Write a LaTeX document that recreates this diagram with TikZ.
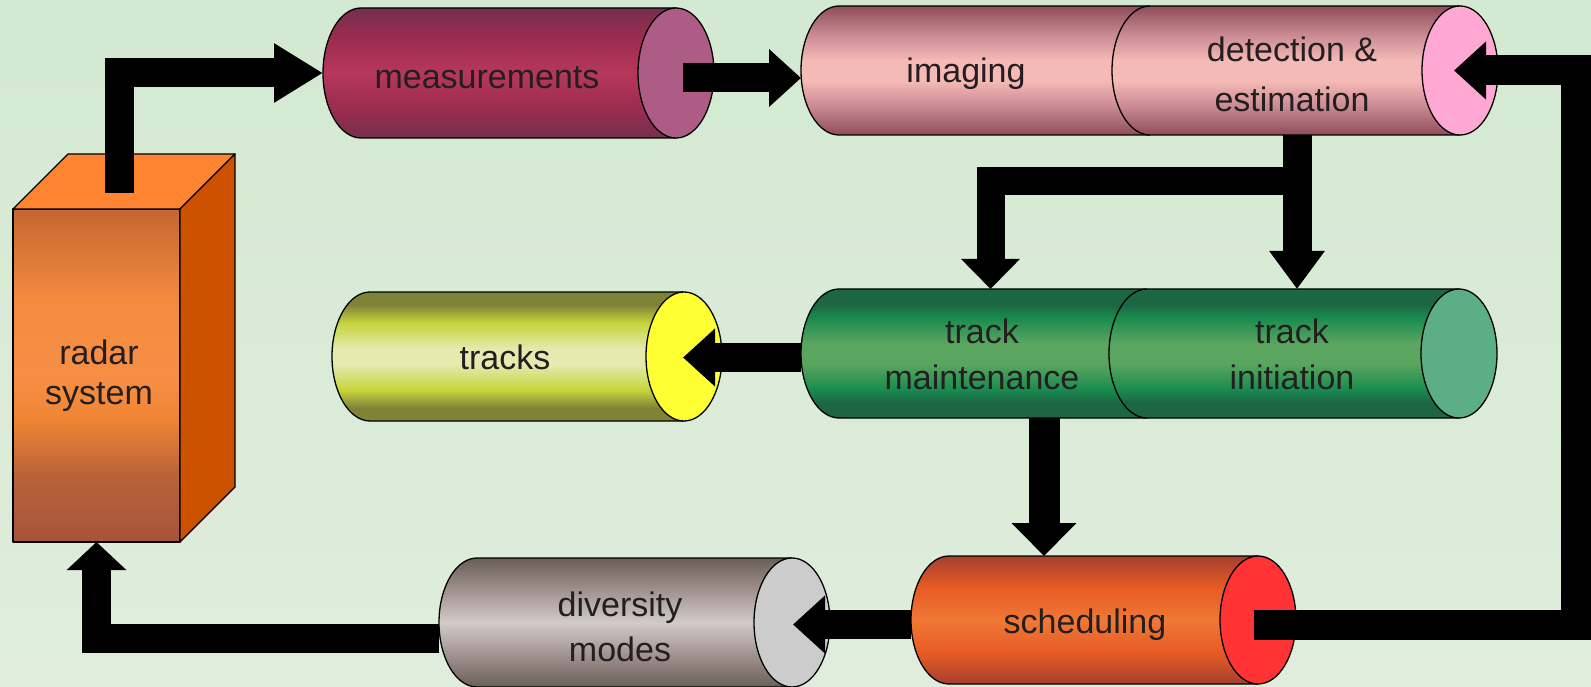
\documentclass[tikz,border=0pt]{standalone}
\usepackage{fontspec}
\setmainfont{Liberation Sans}
\usetikzlibrary{arrows.meta,calc}

\definecolor{bgT}{HTML}{D3E9D1}
\definecolor{bgB}{HTML}{E0EDDC}
\definecolor{txt}{HTML}{231F20}
% measurements
\definecolor{measE}{HTML}{74304C}
\definecolor{measQ}{HTML}{9A2C50}
\definecolor{measM}{HTML}{B6385A}
\definecolor{measC}{HTML}{AD5C85}
% imaging / detection
\definecolor{imgE}{HTML}{8E4C58}
\definecolor{imgQ}{HTML}{C98A93}
\definecolor{imgM}{HTML}{F5B9B6}
\definecolor{imgC}{HTML}{FFA8D4}
% track
\definecolor{trkE}{HTML}{1C6644}
\definecolor{trkQ}{HTML}{198B4E}
\definecolor{trkM}{HTML}{5AA55F}
\definecolor{trkC}{HTML}{5BAE86}
% tracks
\definecolor{tksE}{HTML}{7F8338}
\definecolor{tksQ}{HTML}{C6D43A}
\definecolor{tksM}{HTML}{E3EBAF}
\definecolor{tksC}{HTML}{FFFF33}
% scheduling
\definecolor{schE}{HTML}{A53F2F}
\definecolor{schQ}{HTML}{E65A25}
\definecolor{schM}{HTML}{F07835}
\definecolor{schC}{HTML}{FF3333}
% diversity
\definecolor{divE}{HTML}{6A5E59}
\definecolor{divQ}{HTML}{9E918D}
\definecolor{divM}{HTML}{D2CBC8}
\definecolor{divC}{HTML}{CCCCCC}
% radar
\definecolor{radA}{HTML}{C56630}
\definecolor{radB}{HTML}{F38B3F}
\definecolor{radC}{HTML}{F68E46}
\definecolor{radD}{HTML}{EF8534}
\definecolor{radE}{HTML}{B9623A}
\definecolor{radF}{HTML}{A6533A}
\definecolor{radTop}{HTML}{FF8533}
\definecolor{radSide}{HTML}{CC5200}

\pgfdeclareverticalshading{measSh}{100bp}{color(0bp)=(measE); color(25bp)=(measE); color(36bp)=(measQ); color(50bp)=(measM); color(64bp)=(measQ); color(75bp)=(measE); color(100bp)=(measE)}
\pgfdeclareverticalshading{imgSh}{100bp}{color(0bp)=(imgE); color(25bp)=(imgE); color(36bp)=(imgQ); color(46bp)=(imgM); color(54bp)=(imgM); color(64bp)=(imgQ); color(75bp)=(imgE); color(100bp)=(imgE)}
\pgfdeclareverticalshading{trkSh}{100bp}{color(0bp)=(trkE); color(25bp)=(trkE); color(31bp)=(trkE); color(36bp)=(trkQ); color(46bp)=(trkM); color(54bp)=(trkM); color(64bp)=(trkQ); color(69bp)=(trkE); color(75bp)=(trkE); color(100bp)=(trkE)}
\pgfdeclareverticalshading{tksSh}{100bp}{color(0bp)=(tksE); color(25bp)=(tksE); color(30bp)=(tksE); color(37bp)=(tksQ); color(47bp)=(tksM); color(53bp)=(tksM); color(63bp)=(tksQ); color(70bp)=(tksE); color(75bp)=(tksE); color(100bp)=(tksE)}
\pgfdeclareverticalshading{schSh}{100bp}{color(0bp)=(schE); color(25bp)=(schE); color(37bp)=(schQ); color(50bp)=(schM); color(63bp)=(schQ); color(75bp)=(schE); color(100bp)=(schE)}
\pgfdeclareverticalshading{divSh}{100bp}{color(0bp)=(divE); color(25bp)=(divE); color(37bp)=(divQ); color(50bp)=(divM); color(63bp)=(divQ); color(75bp)=(divE); color(100bp)=(divE)}
\pgfdeclareverticalshading{radSh}{100bp}{color(0bp)=(radF); color(25bp)=(radF); color(35bp)=(radE); color(43.5bp)=(radD); color(50bp)=(radC); color(61.5bp)=(radB); color(75bp)=(radA); color(100bp)=(radA)}

% cylinder body: xL, xR (centres of the end ellipses), yT, yB (pixel rows), shading
\newcommand\cylbody[5]{%
  \pgfmathsetmacro\cylry{(#4-#3)/2}%
  \shade[shading=#5] (#2,-#3) -- (#1,-#3) arc[start angle=90,end angle=270,x radius=38,y radius=\cylry] -- (#2,-#4) -- cycle;
  \draw[cyl] (#2,-#3) -- (#1,-#3) arc[start angle=90,end angle=270,x radius=38,y radius=\cylry] -- (#2,-#4);
}
% cylinder end cap: xR, yT, yB, colour
\newcommand\cylcap[4]{%
  \pgfmathsetmacro\cylry{(#3-#2)/2}%
  \pgfmathsetmacro\cylcy{-(#3+#2)/2}%
  \filldraw[cyl, fill=#4] (#1,\cylcy) ellipse[x radius=38, y radius=\cylry];
}

\tikzset{
  cyl/.style={draw=black, line width=1.3pt, line join=round},
  extent/.style={draw=none, rectangle, inner sep=0pt, outer sep=0pt},
  lbl/.style={text=txt, align=center, anchor=base, inner sep=0pt, font=\fontsize{34}{46}\selectfont},
  blk/.style={draw=black, line width=29pt, -{Triangle[width=56pt,length=32pt]}},
}

\begin{document}
\begin{tikzpicture}[x=1pt,y=1pt]
\useasboundingbox (0,0) rectangle (1591,-687);
\shade[top color=bgT, bottom color=bgB] (0,0) rectangle (1591,-687);

% ---------- shapes ----------
\cylbody{361}{676}{8}{138}{measSh}
\cylcap{676}{8}{138}{measC}
\node[extent, minimum width=391pt, minimum height=130pt] (meas) at (518.5,-73) {};

\cylbody{839}{1150}{6}{135}{imgSh}
\node[extent, minimum width=387pt, minimum height=129pt] (img) at (994.5,-70.5) {};
\cylbody{1150}{1460}{6}{135}{imgSh}
\cylcap{1460}{6}{135}{imgC}
\node[extent, minimum width=386pt, minimum height=129pt] (det) at (1305,-70.5) {};

\cylbody{839}{1147}{289}{418}{trkSh}
\node[extent, minimum width=384pt, minimum height=129pt] (maint) at (993,-353.5) {};
\cylbody{1147}{1459}{289}{418}{trkSh}
\cylcap{1459}{289}{418}{trkC}
\node[extent, minimum width=388pt, minimum height=129pt] (init) at (1303,-353.5) {};

\cylbody{370}{684}{292}{421}{tksSh}
\cylcap{684}{292}{421}{tksC}
\node[extent, minimum width=390pt, minimum height=129pt] (tracks) at (527,-356.5) {};

\cylbody{949}{1258}{556}{684}{schSh}
\cylcap{1258}{556}{684}{schC}
\node[extent, minimum width=385pt, minimum height=128pt] (sched) at (1103.5,-620) {};

\cylbody{477}{792}{558}{687}{divSh}
\cylcap{792}{558}{687}{divC}
\node[extent, minimum width=391pt, minimum height=129pt] (div) at (634.5,-622.5) {};

% radar box
\shade[shading=radSh] (13,-209) rectangle (180,-542);
\draw[cyl] (13,-209) rectangle (180,-542);
\filldraw[cyl, fill=radTop] (13,-209) -- (68,-154) -- (235,-154) -- (180,-209) -- cycle;
\filldraw[cyl, fill=radSide] (180,-209) -- (235,-154) -- (235,-487) -- (180,-542) -- cycle;
\node[extent, minimum width=167pt, minimum height=333pt] (radar) at (96.5,-375.5) {};

% ---------- connectors ----------
\coordinate (radartop) at (119,-193);
\coordinate (split) at (1297,-181.5);
\coordinate (fbk) at (1575.5,-624.5);

\draw[blk, -{Triangle[width=56pt,length=49pt]}] (radartop) |- (meas.west);
\draw[blk] ([xshift=-31pt,yshift=-5pt]meas.east) -- ([yshift=-7.5pt]img.west);
\draw[blk, -{Triangle[width=53pt,length=38pt]}] (1297,0 |- det.south) -- (1297,0 |- init.north);
\draw[blk, line width=28pt, -{Triangle[width=57pt,length=30pt]}] (split) -| (990.5,0 |- maint.north);
\draw[blk, line width=31pt, -{Triangle[width=63pt,length=33pt]}] (1044,0 |- maint.south) -- (1044,0 |- sched.north);
\draw[blk] ([yshift=-4.5pt]sched.west) -- ([xshift=-37pt,yshift=-2pt]div.east);
\draw[blk, -{Triangle[width=58pt,length=28pt]}] ([yshift=-16pt]div.west) -| (radar.south);
\draw[blk, line width=30pt] ([xshift=-42pt,yshift=-4.5pt]sched.east) -- (fbk) |- ([xshift=-44pt]det.east);
\draw[blk] ([yshift=-4pt]maint.west) -- ([xshift=-39pt,yshift=-1pt]tracks.east);

% ---------- labels (anchor = baseline of the last line) ----------
\node[lbl] (measT) at (487,-89) {measurements};
\node[lbl] (imgT) at (966,-83) {imaging};
\node[lbl, font=\fontsize{34}{50}\selectfont] (detT) at (1292,-112) {detection \&\\estimation};
\node[lbl] (maintT) at (982,-389) {track\\maintenance};
\node[lbl] (initT) at (1292,-389) {track\\initiation};
\node[lbl] (tracksT) at (505,-369) {tracks};
\node[lbl, font=\fontsize{34}{40}\selectfont] (radarT) at (99,-404) {radar\\system};
\node[lbl, font=\fontsize{34}{45}\selectfont] (divT) at (620,-661) {diversity\\modes};
\node[lbl] (schedT) at (1085,-633) {scheduling};
\end{tikzpicture}
\end{document}
